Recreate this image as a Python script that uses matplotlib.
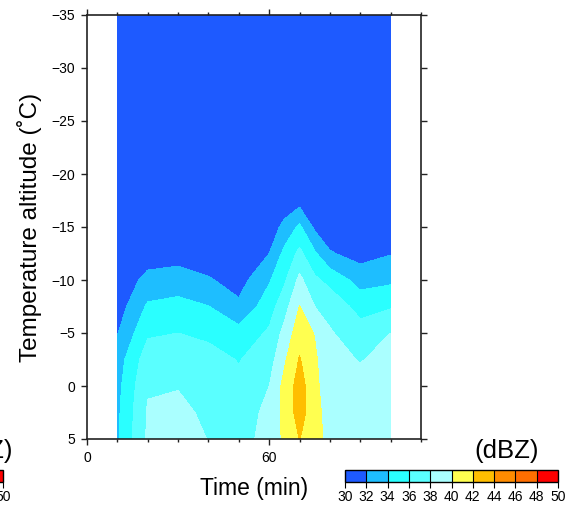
import numpy as np
import matplotlib
matplotlib.use("Agg")
import matplotlib.pyplot as plt
from matplotlib.colors import ListedColormap, BoundaryNorm
from matplotlib.ticker import MultipleLocator

plt.rcParams['font.family'] = ['Liberation Sans', 'DejaVu Sans']

# time (min) and temperature level (deg C)
times = [10, 20, 30, 40, 50, 60, 65, 70, 75, 80, 90, 100]
temps = [5, 2.5, 0, -2.5, -5, -7.5, -10, -12.5, -15, -17.5, -20, -25, -30, -35]

# reflectivity (dBZ), one row per temperature level
dbz = [
    [33.7, 38.3, 38.8, 37.95, 37.0, 38.9, 40.3, 42.05, 40.8, 39.3, 39.2, 39.5],
    [33.6, 38.2, 38.5, 37.6, 36.8, 38.6, 40.5, 42.9, 40.7, 39.1, 39.0, 39.3],
    [33.4, 37.8, 37.9, 37.2, 36.4, 38.0, 40.6, 42.9, 40.5, 38.8, 38.6, 39.0],
    [33.0, 37.1, 37.1, 36.7, 35.9, 37.1, 39.7, 42.15, 40.3, 38.6, 37.9, 38.6],
    [31.9, 35.7, 36.0, 35.6, 34.7, 36.3, 38.6, 41.2, 39.9, 38.2, 36.8, 38.0],
    [31.0, 34.3, 34.6, 34.05, 32.4, 35.1, 37.2, 40.05, 38.0, 37.3, 35.3, 35.8],
    [30.6, 32.6, 33.0, 32.2, 31.2, 33.8, 35.7, 38.5, 36.4, 35.4, 33.2, 33.6],
    [30.5, 31.0, 31.1, 30.8, 30.6, 32.0, 34.5, 36.5, 34.3, 32.2, 31.2, 31.9],
    [30.4, 30.5, 30.5, 30.4, 30.4, 30.8, 32.6, 34.4, 31.6, 30.6, 30.6, 30.7],
    [30.4, 30.4, 30.4, 30.4, 30.4, 30.4, 30.6, 31.2, 30.5, 30.4, 30.4, 30.4],
    [30.4, 30.4, 30.4, 30.4, 30.4, 30.4, 30.4, 30.6, 30.4, 30.4, 30.4, 30.4],
    [30.4, 30.4, 30.4, 30.4, 30.4, 30.4, 30.4, 30.4, 30.4, 30.4, 30.4, 30.4],
    [30.4, 30.4, 30.4, 30.4, 30.4, 30.4, 30.4, 30.4, 30.4, 30.4, 30.4, 30.4],
    [30.4, 30.4, 30.4, 30.4, 30.4, 30.4, 30.4, 30.4, 30.4, 30.4, 30.4, 30.4],
]

levels = [30, 32, 34, 36, 38, 40, 42, 44, 46, 48, 50]
colors = ['#1e5aff', '#1ebeff', '#2affff', '#5affff', '#aaffff',
          '#ffff50', '#ffbe00', '#ff8c00', '#ff6e00', '#ff0000']

cmap = ListedColormap(colors)
norm = BoundaryNorm(levels, cmap.N)

W, H = 582, 513
fig = plt.figure(figsize=(W / 100, H / 100), dpi=100)

def px_axes(x0, y0, x1, y1):
    # pixel box (top-left origin) -> figure axes
    return fig.add_axes([x0 / W, 1 - y1 / H, (x1 - x0) / W, (y1 - y0) / H])

ax = px_axes(87, 15, 421, 439)
X, Y = np.meshgrid(times, temps)
cf = ax.contourf(X, Y, np.array(dbz), levels=levels, cmap=cmap, norm=norm)

ax.set_xlim(0, 110)
ax.set_ylim(5, -35)
ax.xaxis.set_major_locator(MultipleLocator(60))
ax.xaxis.set_minor_locator(MultipleLocator(10))
ax.yaxis.set_major_locator(MultipleLocator(5))
ax.tick_params(which='both', direction='out', top=True, right=True,
               labelsize=10, width=1, color='#222222', pad=4)
ax.tick_params(which='major', length=4.5)
ax.tick_params(which='minor', length=2.5)
for s in ax.spines.values():
    s.set_linewidth(1.2)
    s.set_color('#222222')

ax.set_xlabel('Time (min)', fontsize=16.5, labelpad=9)
ax.set_ylabel('Temperature altitude (˚C)', fontsize=17.5, labelpad=7)

# colorbar on the right
cax = px_axes(345, 470, 558, 482)
cb = fig.colorbar(cf, cax=cax, orientation='horizontal', ticks=levels,
                  drawedges=True)
cb.outline.set_linewidth(1)
cb.dividers.set_linewidth(0.8)
cax.tick_params(labelsize=10, length=4, width=0.8, pad=2)
fig.text(507 / W, 1 - 451 / H, '(dBZ)', fontsize=18.5, ha='center', va='center')

# clipped colorbar of the neighbouring panel at the left edge
cax2 = px_axes(-210, 470, 3, 482)
cb2 = fig.colorbar(cf, cax=cax2, orientation='horizontal', ticks=levels,
                   drawedges=True)
cb2.outline.set_linewidth(1)
cb2.dividers.set_linewidth(0.8)
cax2.tick_params(labelsize=10, length=4, width=0.8, pad=2)
fig.text(13 / W, 1 - 451 / H, '(dBZ)', fontsize=18.5, ha='right', va='center')

fig.savefig('out.png', dpi=100)
